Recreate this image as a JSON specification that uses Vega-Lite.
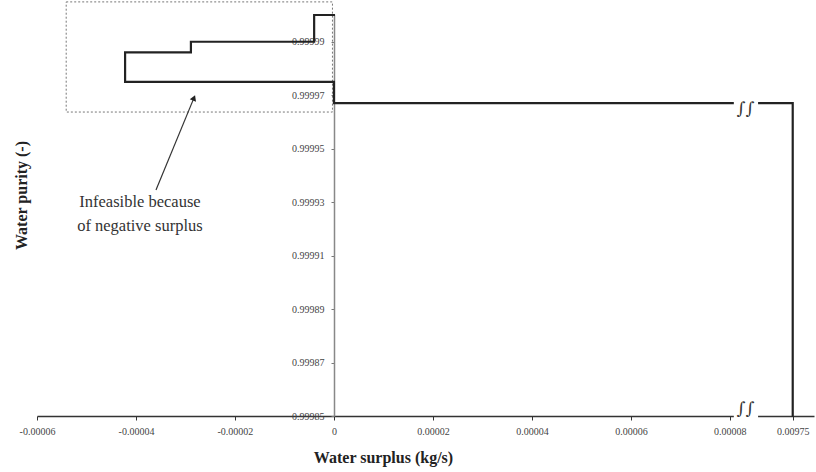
{
  "$schema": "https://vega.github.io/schema/vega-lite/v6.json",
  "width": 777,
  "height": 401,
  "autosize": {"type": "none"},
  "padding": {"left": 37, "top": 15, "right": 2, "bottom": 56},
  "background": "white",
  "config": {"view": {"stroke": null}, "font": "Liberation Serif"},
  "datasets": {
    "curve": [
      {"series": "a", "order": 1, "x": 0, "y": 1.0},
      {"series": "a", "order": 2, "x": -0.000004, "y": 1.0},
      {"series": "a", "order": 3, "x": -0.000004, "y": 0.99999},
      {"series": "a", "order": 4, "x": -0.0000289, "y": 0.99999},
      {"series": "a", "order": 5, "x": -0.0000289, "y": 0.999986},
      {"series": "a", "order": 6, "x": -0.0000422, "y": 0.999986},
      {"series": "a", "order": 7, "x": -0.0000422, "y": 0.999975},
      {"series": "a", "order": 8, "x": 0, "y": 0.999975},
      {"series": "a", "order": 9, "x": 0, "y": 0.999967},
      {"series": "a", "order": 10, "x": 0.0000808, "y": 0.999967},
      {"series": "b", "order": 11, "x": 0.0000857, "y": 0.999967},
      {"series": "b", "order": 12, "x": 0.0000927, "y": 0.999967},
      {"series": "b", "order": 13, "x": 0.0000927, "y": 0.99985}
    ],
    "box": [{"x": -0.0000541, "x2": -0.0000003, "y": 1.0000049, "y2": 0.9999637}],
    "gaps": [
      {"x": 0.0000808, "x2": 0.0000857, "y": 0.9999655, "y2": 0.9999685},
      {"x": 0.0000808, "x2": 0.0000857, "y": 0.9998485, "y2": 0.9998515}
    ],
    "breaks": [
      {"x": 0.0000832, "y": 0.999965, "label": "∫∫"},
      {"x": 0.0000832, "y": 0.9998528, "label": "∫∫"}
    ],
    "arrow": [{"x": -0.00003596, "y": 0.9999345, "x2": -0.00002828, "y2": 0.999969}],
    "head": [{"x": -0.00002828, "y": 0.999969}],
    "notes": [
      {"x": -0.0000392, "y": 0.99993, "label": "Infeasible because"},
      {"x": -0.0000392, "y": 0.999921, "label": "of negative surplus"}
    ]
  },
  "layer": [
    {
      "data": {"name": "box"},
      "mark": {"type": "rect", "fill": null, "stroke": "#777", "strokeWidth": 1, "strokeDash": [2, 2]},
      "encoding": {
        "x": {
          "field": "x", "type": "quantitative",
          "scale": {"domain": [-0.00006, 0.000097], "nice": false, "zero": false},
          "axis": {
            "values": [-0.00006, -0.00004, -0.00002, 0, 0.00002, 0.00004, 0.00006, 0.00008, 0.0000927],
            "labelExpr": "datum.value > 0.00009 ? '0.00975' : (datum.value == 0 ? '0' : replace(format(datum.value, '.5f'), '−', '-'))",
            "grid": false, "domainColor": "#333", "domainWidth": 1.5,
            "tickColor": "#333", "tickSize": 4, "labelFontSize": 10, "labelColor": "#444",
            "labelPadding": 6, "labelFlush": false, "labelOverlap": false,
            "title": "Water surplus (kg/s)", "titleFontSize": 16, "titleFontWeight": "bold",
            "titleColor": "#222", "titleX": 346, "titleY": 41, "titleBaseline": "middle", "titleAlign": "center"
          }
        },
        "x2": {"field": "x2"},
        "y": {
          "field": "y", "type": "quantitative",
          "scale": {"domain": [0.99985, 1.0], "nice": false, "zero": false},
          "axis": {
            "values": [0.99985, 0.99987, 0.99989, 0.99991, 0.99993, 0.99995, 0.99997, 0.99999],
            "format": ".5f", "offset": -297,
            "grid": false, "domainColor": "#888", "domainWidth": 1.5,
            "tickColor": "#777", "tickSize": 3, "labelFontSize": 10, "labelColor": "#444",
            "labelPadding": 7,
            "title": "Water purity (-)", "titleFontSize": 16, "titleFontWeight": "bold",
            "titleColor": "#222", "titleX": -313, "titleY": 180, "titleAngle": 270,
            "titleBaseline": "middle", "titleAlign": "center"
          }
        },
        "y2": {"field": "y2"}
      }
    },
    {
      "data": {"name": "curve"},
      "mark": {"type": "line", "color": "#222", "strokeWidth": 2.2, "strokeJoin": "miter", "strokeCap": "square"},
      "encoding": {
        "x": {"field": "x", "type": "quantitative"},
        "y": {"field": "y", "type": "quantitative"},
        "detail": {"field": "series"},
        "order": {"field": "order"}
      }
    },
    {
      "data": {"name": "gaps"},
      "mark": {"type": "rect", "fill": "white"},
      "encoding": {
        "x": {"field": "x", "type": "quantitative"},
        "x2": {"field": "x2"},
        "y": {"field": "y", "type": "quantitative"},
        "y2": {"field": "y2"}
      }
    },
    {
      "data": {"name": "breaks"},
      "mark": {"type": "text", "fontSize": 17, "color": "#333", "font": "DejaVu Serif", "baseline": "middle"},
      "encoding": {
        "x": {"field": "x", "type": "quantitative"},
        "y": {"field": "y", "type": "quantitative"},
        "text": {"field": "label"}
      }
    },
    {
      "data": {"name": "arrow"},
      "mark": {"type": "rule", "color": "#333", "strokeWidth": 1.2},
      "encoding": {
        "x": {"field": "x", "type": "quantitative"},
        "x2": {"field": "x2"},
        "y": {"field": "y", "type": "quantitative"},
        "y2": {"field": "y2"}
      }
    },
    {
      "data": {"name": "head"},
      "mark": {"type": "point", "shape": "triangle-up", "filled": true, "color": "#222", "size": 45, "angle": 22, "opacity": 1},
      "encoding": {
        "x": {"field": "x", "type": "quantitative"},
        "y": {"field": "y", "type": "quantitative"}
      }
    },
    {
      "data": {"name": "notes"},
      "mark": {"type": "text", "fontSize": 16.5, "color": "#333", "align": "center", "baseline": "middle"},
      "encoding": {
        "x": {"field": "x", "type": "quantitative"},
        "y": {"field": "y", "type": "quantitative"},
        "text": {"field": "label"}
      }
    }
  ]
}
